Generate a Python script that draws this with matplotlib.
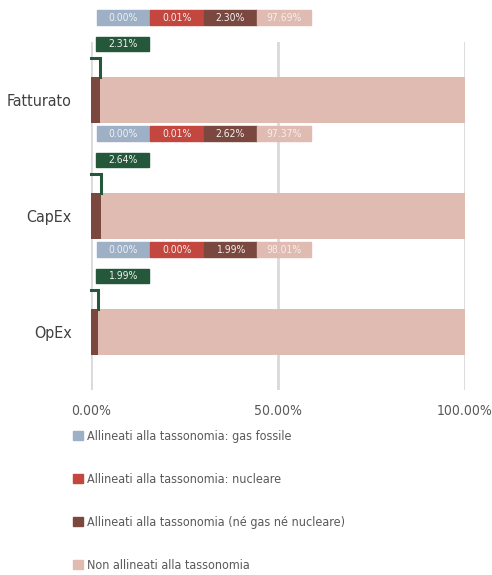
import matplotlib.pyplot as plt
from matplotlib.patches import Rectangle

plt.rcParams['font.family'] = ['DejaVu Sans']
plt.rcParams['font.stretch'] = 'condensed'

categories = ['Fatturato', 'CapEx', 'OpEx']
gas = [0.00, 0.00, 0.00]
nucleare = [0.01, 0.01, 0.00]
allineati = [2.30, 2.62, 1.99]
non_allineati = [97.69, 97.37, 98.01]
totale = [2.31, 2.64, 1.99]
series_names = ['Allineati alla tassonomia: gas fossile',
                'Allineati alla tassonomia: nucleare',
                'Allineati alla tassonomia (né gas né nucleare)',
                'Non allineati alla tassonomia']
colors = ['#9eb0c6', '#c4473f', '#7b4840', '#dfbbb2']
green = '#25573a'

fig = plt.figure(figsize=(4.92, 5.75), dpi=100)
ax = fig.add_axes([91 / 492, 1 - 390 / 575, 374 / 492, 348 / 575])

ypos = list(range(len(categories)))
h = 0.39
left = [0] * len(categories)
for vals, c in zip([gas, nucleare, allineati, non_allineati], colors):
    ax.barh(ypos, vals, left=left, height=h, color=c, zorder=2)
    left = [l + v for l, v in zip(left, vals)]

ax.set_xlim(0, 100)
ax.set_ylim(2.5, -0.5)
ax.set_xticks([0, 50, 100])
ax.set_xticklabels(['0.00%', '50.00%', '100.00%'], fontsize=10, color='#595959')
ax.set_yticks(ypos)
ax.set_yticklabels(categories, fontsize=11.5, color='#404040')
ax.tick_params(axis='x', length=0, pad=10)
ax.tick_params(axis='y', length=0, pad=14)
ax.grid(axis='x', color='#d9d9d9', lw=2, zorder=0)
for s in ax.spines.values():
    s.set_visible(False)

# data label boxes
bw = 14.2
bh = 0.125
txt_colors = ['#f0f0f0', '#f0f0f0', '#f0f0f0', '#f7eeee']
for i in ypos:
    vals = [gas[i], nucleare[i], allineati[i], non_allineati[i]]
    yc = i - 0.711
    for k, (v, c) in enumerate(zip(vals, colors)):
        x0 = 1.6 + k * (bw + 0.1)
        ax.add_patch(Rectangle((x0, yc - bh / 2), bw, bh, color=c, clip_on=False, zorder=3))
        ax.text(x0 + bw / 2, yc, f'{v:.2f}%', ha='center', va='center', fontsize=7.5,
                color=txt_colors[k], clip_on=False, zorder=4)
    yg = i - 0.483
    ax.add_patch(Rectangle((1.34, yg - bh / 2), bw, bh, color=green, clip_on=False, zorder=3))
    ax.text(1.34 + bw / 2, yg, f'{totale[i]:.2f}%', ha='center', va='center', fontsize=7.5,
            color='#f0f0f0', clip_on=False, zorder=4)
    top = i - h / 2
    ax.plot([0, totale[i], totale[i]], [top - 0.164, top - 0.164, top], color=green,
            lw=2.2, solid_joinstyle='miter', clip_on=False, zorder=3)

handles = [Rectangle((0, 0), 1, 1, color=c) for c in colors]
fig.legend(handles, series_names, loc='upper left', bbox_to_anchor=(73 / 492, 1 - 430 / 575),
           frameon=False, fontsize=9, labelcolor='#595959', handlelength=0.8, handleheight=0.8,
           handletextpad=0.35, labelspacing=2.4, borderaxespad=0, borderpad=0)

fig.savefig('out.png', dpi=100)
